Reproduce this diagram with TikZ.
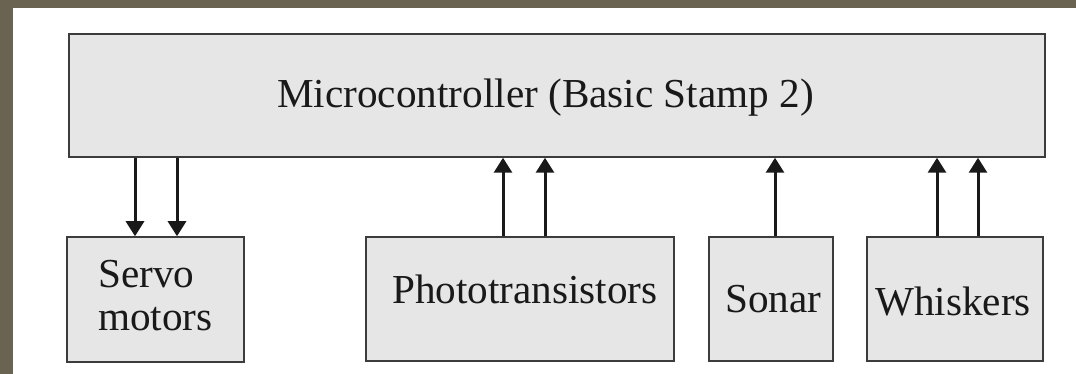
\documentclass[tikz,border=0pt]{standalone}
\usepackage{fontspec}
\setmainfont{Liberation Serif}
\usetikzlibrary{arrows.meta}
\definecolor{frame}{RGB}{107,99,82}
\definecolor{boxfill}{RGB}{230,230,230}
\definecolor{boxline}{RGB}{60,60,60}
\definecolor{arrcol}{RGB}{25,25,25}
\begin{document}
\begin{tikzpicture}[x=1pt,y=-1pt,
  blk/.style={draw=boxline,fill=boxfill,line width=1.5pt,rectangle,inner sep=0pt},
  lbl/.style={anchor=base west,inner sep=0pt,font=\fontsize{41.2}{44}\selectfont,text=black!90},
  arr/.style={draw=arrcol,line width=3pt,-{Triangle[width=18pt,length=15pt]}}]
\useasboundingbox (0,0) rectangle (1076,374);
\fill[frame] (0,0) rectangle (1076,374);
\fill[white] (13,8) rectangle (1076,374);
\node[blk,minimum width=976pt,minimum height=123pt] (main) at (557,95.5) {};
\node[blk,minimum width=177pt,minimum height=125pt] (servo) at (155.5,299.5) {};
\node[blk,minimum width=308pt,minimum height=124pt] (photo) at (520,299) {};
\node[blk,minimum width=124pt,minimum height=124pt] (sonar) at (771,299) {};
\node[blk,minimum width=176pt,minimum height=124pt] (whisk) at (955,299) {};
\node[lbl] (tmain) at (277,108) {Microcontroller (Basic Stamp 2)};
\node[lbl] (tservo) at (98,287) {Servo};
\node[lbl] (tmotors) at (98,330) {motors};
\node[lbl] (tphoto) at (392,303) {Phototransistors};
\node[lbl] (tsonar) at (725,312) {Sonar};
\node[lbl] (twhisk) at (875,315) {Whiskers};
\draw[arr] (main.south -| 135,0) -- (servo.north -| 135,0);
\draw[arr] (main.south -| 177,0) -- (servo.north -| 177,0);
\draw[arr] (photo.north -| 503,0) -- (main.south -| 503,0);
\draw[arr] (photo.north -| 545,0) -- (main.south -| 545,0);
\draw[arr] (sonar.north -| 775,0) -- (main.south -| 775,0);
\draw[arr] (whisk.north -| 937,0) -- (main.south -| 937,0);
\draw[arr] (whisk.north -| 978,0) -- (main.south -| 978,0);
\end{tikzpicture}
\end{document}
